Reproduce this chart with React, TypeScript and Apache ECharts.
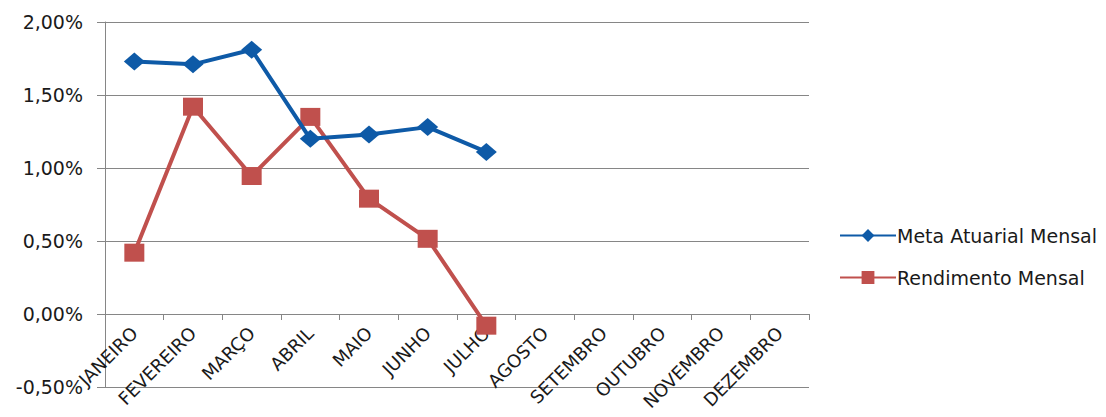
import React, { useEffect, useRef } from "react";
import * as echarts from "echarts";

const categories = ["JANEIRO", "FEVEREIRO", "MARÇO", "ABRIL", "MAIO", "JUNHO", "JULHO", "AGOSTO", "SETEMBRO", "OUTUBRO", "NOVEMBRO", "DEZEMBRO"];
const metaAtuarial = [1.73, 1.71, 1.81, 1.2, 1.23, 1.28, 1.11, null, null, null, null, null];
const rendimento = [0.42, 1.42, 0.945, 1.35, 0.79, 0.515, -0.08, null, null, null, null, null];
const yTicks = { min: -0.5, max: 2.0, interval: 0.5 };

export default function App() {
  const ref = useRef<HTMLDivElement>(null);
  useEffect(() => {
    const chart = echarts.init(ref.current!, null, { renderer: "svg" });
    const font = "'DejaVu Sans', 'Open Sans', sans-serif";
    const gridTop = 22;
    const gridBottom = 30;
    const plotH = 417 - gridTop - gridBottom;
    const zeroOffset = -plotH * (0 - yTicks.min) / (yTicks.max - yTicks.min);
    chart.setOption({
      animation: false,
      textStyle: { fontFamily: font },
      grid: { left: 105, right: 297, top: gridTop, bottom: gridBottom, containLabel: false, outerBoundsMode: "none" },
      legend: {
        orient: "vertical",
        left: 834,
        top: 221,
        itemWidth: 56,
        itemHeight: 16,
        itemGap: 23,
        textStyle: { fontSize: 19, color: "#1a1a1a", fontFamily: font, padding: [0, 0, 0, -4] },
        data: ["Meta Atuarial Mensal", "Rendimento Mensal"],
      },
      xAxis: {
        type: "category",
        data: categories,
        boundaryGap: true,
        position: "bottom",
        offset: zeroOffset,
        axisLine: { onZero: false, lineStyle: { color: "#868686", width: 1 } },
        axisTick: { show: true, length: 6, lineStyle: { color: "#868686" } },
        axisLabel: { rotate: 45, fontSize: 18, color: "#1a1a1a", fontFamily: font, margin: 16, interval: 0 },
        splitLine: { show: false },
      },
      yAxis: {
        type: "value",
        min: yTicks.min,
        max: yTicks.max,
        interval: yTicks.interval,
        axisLine: { show: true, lineStyle: { color: "#868686" } },
        axisTick: { show: true, length: 8, lineStyle: { color: "#868686" } },
        axisLabel: {
          fontSize: 19,
          color: "#1a1a1a",
          fontFamily: font,
          margin: 22,
          formatter: (v: number) => v.toFixed(2).replace(".", ",") + "%",
        },
        splitLine: { show: true, lineStyle: { color: "#868686", width: 1 } },
      },
      series: [
        {
          name: "Meta Atuarial Mensal",
          type: "line",
          data: metaAtuarial,
          symbol: "diamond",
          symbolSize: [21, 18],
          lineStyle: { color: "#0e5aa7", width: 4 },
          itemStyle: { color: "#0e5aa7" },
          z: 3,
        },
        {
          name: "Rendimento Mensal",
          type: "line",
          data: rendimento,
          symbol: "rect",
          symbolSize: [20, 18],
          lineStyle: { color: "#c0504d", width: 4 },
          itemStyle: { color: "#c0504d" },
          z: 2,
        },
      ],
    });
    return () => chart.dispose();
  }, []);
  return <div ref={ref} style={{ width: 1106, height: 417, position: "absolute", left: 0, top: 0 }} />;
}
